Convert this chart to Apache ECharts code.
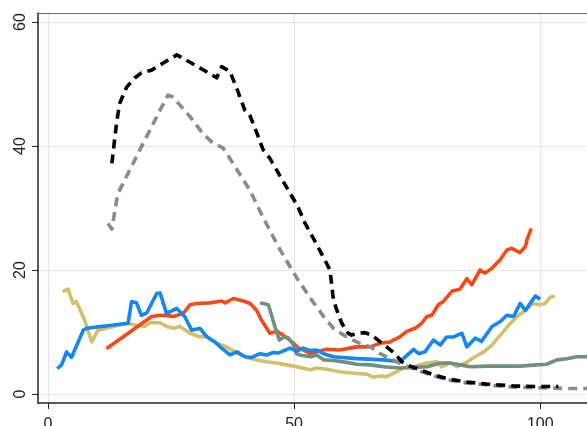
<!DOCTYPE html>
<html>
<head>
<meta charset="utf-8">
<script src="https://cdn.jsdelivr.net/npm/echarts@6/dist/echarts.min.js"></script>
<style>
    html, body { margin: 0; padding: 0; background: #fff; }
    #main { width: 587px; height: 426px; }
</style>
</head>
<body>
<div id="main"></div>
<script>
var x_ticks = [0, 50, 100];
var y_ticks = [0, 20, 40, 60];

// [x, y] pairs
var black_dash = [[13,37.2],[14,44],[14.6,46.9],[16,49.5],[17.7,51],[19,51.8],[21,52.2],[24.1,53.7],[26.2,54.7],[30,53],[34.3,51],[35.3,52.8],[37,52],[38.5,49],[40,45.8],[41,45],[42.5,42],[43.7,39.4],[45.1,38],[48,34],[50.8,30.2],[52.2,27.6],[54,25],[56,22],[57.3,20],[58,15.2],[58.7,13.5],[59.7,11.4],[61,9.8],[61.7,9.5],[63.1,9.8],[64.4,9.9],[65.8,9.5],[67.5,8.4],[68.8,7.6],[70.5,6.5],[71.9,5.2],[72.9,4.7],[75.6,3.9],[78.3,3.1],[81,2.5],[84.4,2.0],[89.2,1.6],[94.6,1.3],[100,1.2],[103.7,1.2]];
var gray_dash = [[12.2,27.5],[13,26.6],[14.2,32.3],[16.3,35.6],[18.7,39.4],[22.8,45.8],[24.4,48.2],[25.4,47.9],[28.9,44.7],[31.5,42],[33.5,40.5],[35.6,39.7],[37.6,37.2],[41,32.9],[43.7,28.5],[47.2,23.2],[50.8,18.4],[53.9,14.8],[56,12.5],[58,10.6],[60.7,9.2],[62.7,8.4],[65.5,7.6],[67.5,6.5],[69.5,5.7],[72.2,4.7],[74.9,3.9],[78,3.0],[81,2.3],[85,1.8],[90,1.4],[95,1.1],[100,1.0],[105,0.9],[109.5,0.9]];
var orange = [[11.9,7.3],[21.1,12.5],[22.8,12.7],[24.8,12.6],[25.5,12.5],[27.5,13],[28.9,14.4],[30.2,14.6],[32.9,14.7],[35.3,15],[36,14.7],[37.7,15.4],[39.7,15],[41.1,14.6],[42.4,13.5],[43.4,11.9],[45.1,9.8],[46.5,10.1],[47.8,9.5],[49.9,8.2],[50.9,7.4],[51.9,7.1],[53.3,6.5],[54.6,6.8],[56.6,7.2],[59.3,7.1],[61.4,7.4],[62.7,7.6],[65.5,7.6],[67.5,8.2],[69.5,8.4],[71.5,9.2],[72.9,10.1],[74.6,10.6],[75.9,11.4],[77,12.5],[78,12.7],[79.3,14.4],[80.3,14.9],[82.1,16.6],[83.7,16.9],[85.1,18.6],[86.1,17.6],[87.8,20],[88.8,19.5],[90.2,20.3],[91.9,21.7],[93.2,23.2],[94.2,23.5],[95.9,22.8],[97,23.8],[97.4,25.1],[98.2,26.7]];
var blue = [[1.9,4.1],[2.8,4.7],[3.8,6.8],[4.8,5.9],[7.2,10.3],[7.9,10.6],[16.3,11.4],[17,14.9],[18,14.7],[19,12.7],[20.1,13.1],[22.1,16.2],[22.8,16.3],[24.1,13],[26.2,13.8],[27.8,12.5],[29.2,10.3],[30.9,10.6],[32.3,9.2],[33.9,8.4],[35.3,7.4],[37,6.3],[38.4,6.8],[40,6],[41.4,5.9],[43.1,6.5],[44.4,6.3],[45.8,6.7],[46.8,6.6],[49.2,7.4],[50.5,6.9],[51.9,7.4],[53.3,7.0],[54.6,7.1],[56,6.5],[58,6.0],[62.7,5.7],[68.2,5.5],[71.5,5.2],[72.6,6.0],[74.3,7.2],[75.3,6.5],[76.6,6.8],[78.3,8.7],[79.7,7.9],[81,9.2],[82.4,9.2],[84.1,9.8],[85.1,7.6],[86.8,9.0],[88.1,8.5],[90.2,10.9],[91.9,11.7],[93.2,12.7],[94.6,12.5],[95.9,14.6],[97,13.5],[99,15.8],[100,15.3]];
var khaki = [[3,16.5],[4.1,16.9],[5.1,14.6],[5.8,14.9],[7.5,11.9],[8.9,8.4],[10.2,10.3],[16,11.4],[18,11.1],[19.7,10.9],[20.7,11.5],[22.8,11.5],[24.1,10.9],[25.5,10.6],[26.8,10.9],[28.9,9.8],[30.9,9.2],[32.3,9.3],[34.3,8.2],[36.3,7.6],[38.4,6.6],[40.4,5.9],[42.4,5.5],[44.4,5.2],[46.5,5.0],[48.5,4.7],[50.5,4.4],[53.3,3.9],[54.6,4.2],[56.6,4.0],[59.3,3.6],[62.7,3.3],[64.8,3.2],[66.1,2.7],[67.5,2.9],[68.8,2.8],[70.9,3.6],[72.2,4.2],[74.3,4.4],[77,5.0],[79,5.2],[80,4.4],[81.7,5.0],[83.1,4.4],[84.8,5.0],[86.8,6.0],[88.5,6.8],[90.2,7.9],[91.9,9.5],[93.6,11.1],[95.3,12.5],[97,13.5],[98.6,14.6],[99.7,14.4],[101,14.6],[102,15.6],[103,15.8]];
var green_gray = [[43.1,14.7],[44.8,14.4],[46.1,10.9],[47,8.7],[48,9.2],[48.8,9.1],[49.9,7.9],[50.5,6.5],[51.2,6.3],[53.3,6.0],[54.6,6.3],[56,5.5],[58,5.4],[60.7,5.1],[62.7,4.8],[65.5,4.7],[68.2,4.4],[71.5,4.2],[74,4.3],[77,4.4],[79.7,5.0],[81.7,5.0],[83.7,4.7],[85.8,4.4],[89.2,4.5],[92.5,4.5],[95.9,4.5],[99.3,4.7],[101.3,4.8],[103.4,5.5],[105.4,5.7],[107.5,6.0],[109.5,6.0]];

var chart = echarts.init(document.getElementById('main'));

function line(data, color, dashed) {
    return {
        type: 'line',
        data: data,
        showSymbol: false,
        silent: true,
        lineStyle: {
            color: color,
            width: 3.6,
            type: dashed ? [9, 6] : 'solid',
            cap: 'butt',
            join: 'round'
        }
    };
}

var option = {
    animation: false,
    textStyle: { fontFamily: 'Liberation Sans' },
    grid: { left: 38, top: 13, right: 0, bottom: 23, outerBoundsMode: 'none', containLabel: false },
    xAxis: [{
        type: 'value',
        min: -2,
        max: 109.5,
        axisLine: { show: true, onZero: false, lineStyle: { color: '#222', width: 1.5 } },
        axisTick: { show: true, length: 6, customValues: x_ticks, lineStyle: { color: '#222' } },
        axisLabel: { customValues: x_ticks, margin: 14, fontSize: 16, color: '#222' },
        splitLine: { show: true, lineStyle: { color: '#e4e4e4', width: 1.2 } }
    }, {
        type: 'value',
        position: 'top',
        min: -2,
        max: 109.5,
        axisLine: { show: true, onZero: false, lineStyle: { color: '#666', width: 1.2 } },
        axisTick: { show: false },
        axisLabel: { show: false },
        splitLine: { show: false }
    }],
    yAxis: {
        type: 'value',
        min: -1.45,
        max: 61.45,
        axisLine: { show: true, onZero: false, lineStyle: { color: '#222', width: 1.5 } },
        axisTick: { show: true, length: 6, customValues: y_ticks, lineStyle: { color: '#222' } },
        axisLabel: { customValues: y_ticks, rotate: 90, margin: 9, fontSize: 16, color: '#222' },
        splitLine: { show: true, lineStyle: { color: '#e4e4e4', width: 1.2 } }
    },
    series: [
        line(khaki, '#d3be6c', false),
        line(orange, '#f44a17', false),
        line(green_gray, '#6f8f7f', false),
        line(blue, '#1587f2', false),
        line(gray_dash, '#8a8a8a', true),
        line(black_dash, '#000000', true)
    ]
};

chart.setOption(option);
</script>
</body>
</html>
